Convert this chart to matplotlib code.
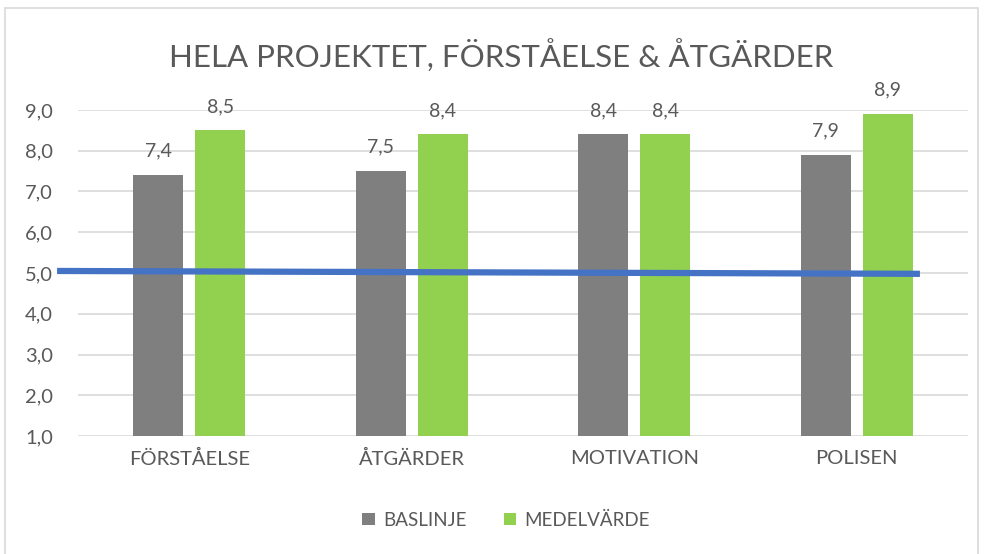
import numpy as np
import matplotlib.pyplot as plt
from matplotlib.patches import Rectangle

plt.rcParams['font.family'] = ['Lato', 'DejaVu Sans']

categories = ['FÖRSTÅELSE', 'ÅTGÄRDER', 'MOTIVATION', 'POLISEN']
baslinje = [7.4, 7.5, 8.4, 7.9]
medelvarde = [8.5, 8.4, 8.4, 8.9]
# hand-drawn reference line (x in category units, y in value units)
ref_x = [-0.594, 3.284]
ref_y = [5.05, 4.98]

GRAY = '#7F7F7F'
GREEN = '#92D050'
BLUE = '#4472C4'
TEXT = '#595959'

fig = plt.figure(figsize=(9.85, 5.54), dpi=100)
fig.patches.append(Rectangle((0.005, -0.01), 0.988, 0.995, transform=fig.transFigure,
                             fill=False, edgecolor='#D9D9D9', linewidth=1.2))
ax = fig.add_axes([78 / 985, 1 - 436 / 554, 890 / 985, 326 / 554])

x = np.arange(len(categories))
w = 0.225
off = 0.14
b1 = ax.bar(x - off, baslinje, w, bottom=0, color=GRAY, label='BASLINJE', zorder=2)
b2 = ax.bar(x + off, medelvarde, w, bottom=0, color=GREEN, label='MEDELVÄRDE', zorder=2)

for bars, vals in ((b1, baslinje), (b2, medelvarde)):
    for r, v in zip(bars, vals):
        ax.text(r.get_x() + r.get_width() / 2, v + 0.38, f'{v:.1f}'.replace('.', ','),
                ha='center', va='bottom', fontsize=14, color=TEXT, clip_on=False)

ax.plot(ref_x, ref_y, color=BLUE, linewidth=4.5, solid_capstyle='butt',
        clip_on=False, zorder=5)

ax.set_xlim(-0.5, len(categories) - 0.5)
ax.set_ylim(1, 9)
ax.set_yticks(np.arange(1, 10))
ax.set_yticklabels([f'{t:.1f}'.replace('.', ',') for t in np.arange(1, 10)])
ax.set_xticks(x)
ax.set_xticklabels(categories)
ax.tick_params(axis='both', length=0, labelsize=14.5, labelcolor=TEXT)
ax.tick_params(axis='y', pad=18)
ax.tick_params(axis='x', pad=10)
ax.grid(axis='y', color='#D9D9D9', linewidth=1.2, zorder=0)
for s in ax.spines.values():
    s.set_visible(False)

fig.text(0.509, 1 - 55 / 554, 'HELA PROJEKTET, FÖRSTÅELSE & ÅTGÄRDER',
         ha='center', va='center', fontsize=22.5, color=TEXT)

fig.legend(handles=[b1, b2], loc='center', bbox_to_anchor=(0.514, 1 - 520 / 554),
           ncol=2, frameon=False, fontsize=13.5, labelcolor=TEXT,
           handlelength=0.65, handleheight=0.65, handletextpad=0.45, columnspacing=2.0)

fig.savefig('out.png', dpi=100)
